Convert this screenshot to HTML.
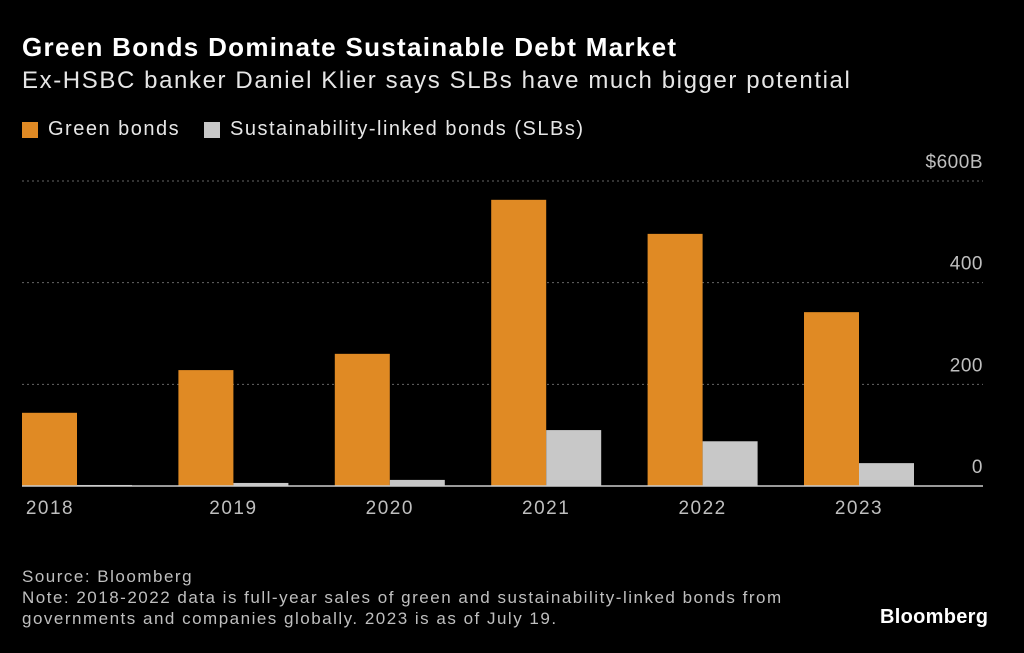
<!DOCTYPE html>
<html><head><meta charset="utf-8"><style>
body{margin:0;background:#000;width:1024px;height:653px;overflow:hidden;font-family:"Liberation Sans",sans-serif;color:#fff}
.t{position:absolute;left:22px;top:32px;font-size:26px;font-weight:bold;letter-spacing:1.3px;white-space:nowrap}
.s{position:absolute;left:22px;top:67px;font-size:24px;color:#e6e6e6;letter-spacing:1.6px;white-space:nowrap}
.lg{position:absolute;top:118px;font-size:20px;color:#e6e6e6;display:flex;align-items:center;letter-spacing:1.5px;white-space:nowrap}
.sw{width:16px;height:16px;display:inline-block;margin-right:10px}
.f{position:absolute;left:22px;font-size:17px;color:#bfbfbf;line-height:21px;letter-spacing:1.5px;white-space:nowrap}
</style></head><body>
<div class="t">Green Bonds Dominate Sustainable Debt Market</div>
<div class="s">Ex-HSBC banker Daniel Klier says SLBs have much bigger potential</div>
<div class="lg" style="left:22px"><span class="sw" style="background:#e08a24"></span>Green bonds</div>
<div class="lg" style="left:204px"><span class="sw" style="background:#c8c8c8"></span>Sustainability-linked bonds (SLBs)</div>
<svg id="c" width="1024" height="653" style="position:absolute;left:0;top:0"></svg>
<div class="f" style="top:566px">Source: Bloomberg<br>Note: 2018-2022 data is full-year sales of green and sustainability-linked bonds from<br>governments and companies globally. 2023 is as of July 19.</div>
<div style="position:absolute;left:880px;top:606px;font-size:20px;font-weight:bold;letter-spacing:0.3px">Bloomberg</div>
<script>
const categories=["2018","2019","2020","2021","2022","2023"];
const greenValues=[144,228,260,563,496,342];
const slbValues=[2,6,12,110,88,45];
const tickValues=[0,200,400,600];
const tickLabels=["0","200","400","$600B"];
const svg=document.getElementById('c');const NS="http://www.w3.org/2000/svg";
const y0=486,yTop=181,x0=22,x1=983;
const y=v=>y0-(v/600)*(y0-yTop);
const gx=i=>77+i*156.4;
function mk(t,a){const e=document.createElementNS(NS,t);for(const k in a)e.setAttribute(k,a[k]);svg.appendChild(e);return e;}
tickValues.forEach((v,i)=>{
 if(v>0){const l=mk('line',{x1:x0,x2:x1,y1:y(v),y2:y(v),stroke:'#666','stroke-dasharray':'2,3'});
 }
 const t=mk('text',{x:x1,y:y(v)-13,'text-anchor':'end',fill:'#bfbfbf','font-size':19,'letter-spacing':0.5,'font-family':'Liberation Sans, sans-serif'});
 t.textContent=tickLabels[i];
 
});
categories.forEach((c,i)=>{
 const cx=gx(i);
 const g=mk('rect',{x:cx-55,y:y(greenValues[i]),width:55,height:y0-y(greenValues[i]),fill:'#e08a24'});
 
 const s=mk('rect',{x:cx,y:y(slbValues[i]),width:55,height:y0-y(slbValues[i]),fill:'#c8c8c8'});
 
 const t=mk('text',{x:i===0?x0+28:cx,y:514,'text-anchor':'middle',fill:'#bfbfbf','font-size':19,'letter-spacing':1.5,'font-family':'Liberation Sans, sans-serif'});
 t.textContent=c;
 
});
const b=mk('line',{x1:x0,x2:x1,y1:y0,y2:y0,stroke:'#ccc','stroke-width':1.5});

</script>
</body></html>
